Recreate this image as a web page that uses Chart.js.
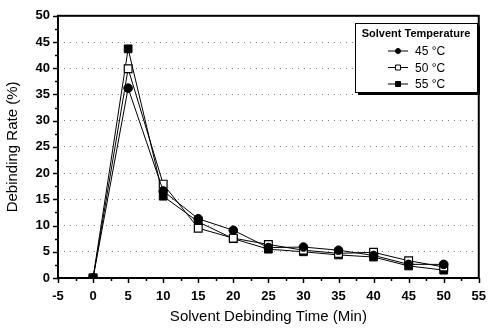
<!DOCTYPE html>
<html>
<head>
<meta charset="utf-8">
<script src="https://cdn.jsdelivr.net/npm/chart.js@4.4.0/dist/chart.umd.min.js"></script>
<style>
  html, body { margin: 0; padding: 0; background: #fff; }
  #wrap { width: 497px; height: 331px; }
</style>
</head>
<body>
<div id="wrap"><canvas id="chart" width="497" height="331"></canvas></div>
<script>
// Debinding rate
const times = [0, 5, 10, 15, 20, 25, 30, 35, 40, 45, 50];
const rate45 = [0, 36.2, 16.6, 11.3, 9.1, 5.8, 5.9, 5.3, 4.3, 2.6, 2.6];
const rate50 = [0, 39.9, 17.9, 9.5, 7.6, 6.4, 5.3, 4.7, 4.9, 3.3, 2.1];
const rate55 = [0, 43.7, 15.6, 10.7, 7.5, 5.5, 5.0, 4.4, 4.0, 2.3, 1.5];
const seriesLabels = ['45 °C', '50 °C', '55 °C'];
const legendTitle = 'Solvent Temperature';

const toPoints = vals => vals.map((v, i) => ({ x: times[i], y: v }));

// frame, outward tick marks and the boxed legend
const framePlugin = {
    id: 'frame',
    afterDraw(chart) {
        const ctx = chart.ctx;
        const a = chart.chartArea;
        const xs = chart.scales.x, ys = chart.scales.y;
        ctx.save();
        ctx.strokeStyle = '#000';
        ctx.lineWidth = 2;
        ctx.strokeRect(a.left, a.top, a.right - a.left, a.bottom - a.top);

        ctx.lineWidth = 1.5;
        for (let v = -5; v <= 55; v += 2.5) {
            const px = Math.round(xs.getPixelForValue(v)) + 0.5;
            const len = (v % 5 === 0) ? 5 : 3;
            ctx.beginPath();
            ctx.moveTo(px, a.bottom);
            ctx.lineTo(px, a.bottom + len);
            ctx.stroke();
        }
        for (let v = 0; v <= 50; v += 2.5) {
            const py = Math.round(ys.getPixelForValue(v)) + 0.5;
            const len = (v % 5 === 0) ? 5 : 3;
            ctx.beginPath();
            ctx.moveTo(a.left, py);
            ctx.lineTo(a.left - len, py);
            ctx.stroke();
        }

        // legend box
        const bx = 355, by = 23, bw = 122, bh = 69;
        ctx.fillStyle = '#000';
        ctx.fillRect(bx + 3, by + 3, bw, bh);
        ctx.fillStyle = '#fff';
        ctx.fillRect(bx, by, bw, bh);
        ctx.lineWidth = 1;
        ctx.strokeRect(bx + 0.5, by + 0.5, bw, bh);

        ctx.fillStyle = '#000';
        ctx.font = 'bold 11px "Liberation Sans", Arial, sans-serif';
        ctx.textAlign = 'center';
        ctx.textBaseline = 'middle';
        ctx.fillText(legendTitle, bx + bw / 2, by + 11);

        ctx.font = '12px "Liberation Sans", Arial, sans-serif';
        ctx.textAlign = 'left';
        chart.data.datasets.forEach((ds, i) => {
            const ly = by + 28 + i * 16.5;
            ctx.lineWidth = 1;
            ctx.strokeStyle = '#000';
            ctx.beginPath();
            ctx.moveTo(388, ly);
            ctx.lineTo(408, ly);
            ctx.stroke();
            ctx.fillStyle = ds.pointBackgroundColor;
            ctx.beginPath();
            if (ds.pointStyle === 'circle') {
                ctx.arc(398, ly, 2.5, 0, Math.PI * 2);
            } else {
                ctx.rect(395.5, ly - 2.5, 5, 5);
            }
            ctx.fill();
            ctx.stroke();
            ctx.fillStyle = '#000';
            ctx.fillText(ds.label, 415, ly + 1);
        });
        ctx.restore();
    }
};

const tickFont = { family: '"Liberation Sans", Arial, sans-serif', size: 13, weight: 'bold' };
const titleFont = { family: '"Liberation Sans", Arial, sans-serif', size: 15 };

new Chart(document.getElementById('chart'), {
    type: 'line',
    data: {
        datasets: [
            {
                label: seriesLabels[0],
                data: toPoints(rate45),
                borderColor: '#000',
                borderWidth: 1,
                pointStyle: 'circle',
                pointRadius: 4.3,
                pointBackgroundColor: '#000',
                pointBorderColor: '#000'
            },
            {
                label: seriesLabels[1],
                data: toPoints(rate50),
                borderColor: '#000',
                borderWidth: 1,
                pointStyle: 'rect',
                pointRadius: 5.5,
                pointBorderWidth: 1.2,
                pointBackgroundColor: '#fff',
                pointBorderColor: '#000'
            },
            {
                label: seriesLabels[2],
                data: toPoints(rate55),
                borderColor: '#000',
                borderWidth: 1,
                pointStyle: 'rect',
                pointRadius: 5.5,
                pointBackgroundColor: '#000',
                pointBorderColor: '#000'
            }
        ]
    },
    options: {
        responsive: false,
        animation: false,
        layout: { padding: { top: 15, right: 8, left: 0, bottom: 0 } },
        plugins: { legend: { display: false }, tooltip: { enabled: false } },
        scales: {
            x: {
                type: 'linear',
                min: -5,
                max: 55,
                ticks: { stepSize: 5, color: '#000', font: tickFont, padding: 11, maxRotation: 0 },
                grid: { display: false, drawTicks: false },
                border: { display: false },
                title: { display: true, text: 'Solvent Debinding Time (Min)', color: '#000', font: titleFont, padding: { top: 4, bottom: 5 } },
                afterFit: s => { s.height = 53; }
            },
            y: {
                min: 0,
                max: 50,
                ticks: { stepSize: 5, color: '#000', font: tickFont, padding: 8 },
                grid: { color: '#888', lineWidth: 1, drawTicks: false },
                border: { display: false, dash: [1, 5] },
                title: { display: true, text: 'Debinding Rate (%)', color: '#000', font: titleFont, padding: { top: 4, bottom: 4 } },
                afterFit: s => { s.width = 58; }
            }
        }
    },
    plugins: [framePlugin]
});
</script>
</body>
</html>
